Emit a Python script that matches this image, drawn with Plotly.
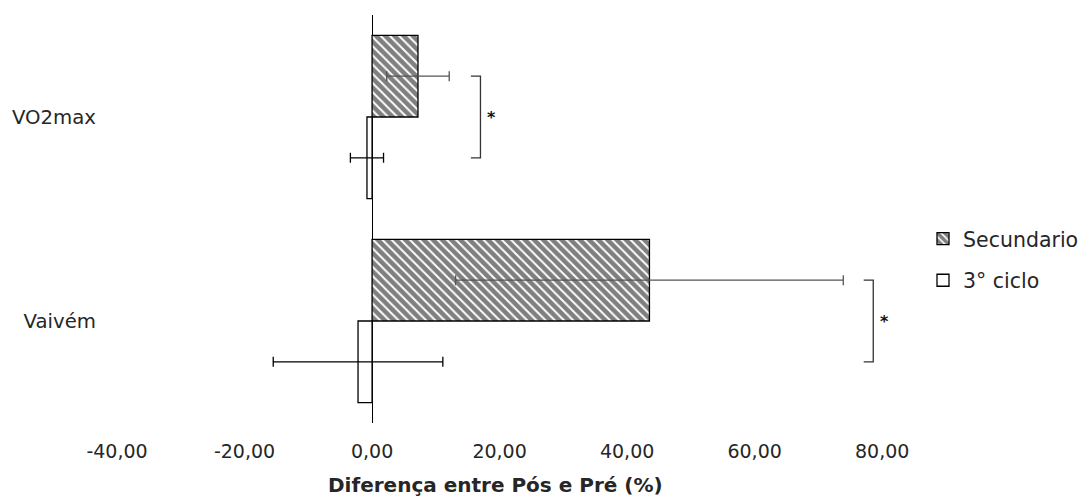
import plotly.graph_objects as go

categories = ["VO2max", "Vaivém"]
series_names = ["Secundario", "3° ciclo"]
secundario = [7.2, 43.5]
secundario_err = [4.9, 30.4]
ciclo3 = [-0.8, -2.2]
ciclo3_err = [2.6, 13.3]
x_ticks = [-40, -20, 0, 20, 40, 60, 80]
x_tick_labels = [f"{v:.2f}".replace(".", ",") for v in x_ticks]
# significance brackets: (category index, x position, label)
brackets = [(0, 17.0, "*"), (1, 78.6, "*")]

FONT = "DejaVu Sans"
TXT = "#262626"

fig = go.Figure()
fig.add_trace(go.Bar(
    name=series_names[0], y=categories, x=secundario, orientation="h",
    marker=dict(color="white", line=dict(color="black", width=1.3),
                pattern=dict(shape="\\", size=6.5, solidity=0.7, fgcolor="black", bgcolor="white")),
    error_x=dict(type="data", array=secundario_err, visible=True, color="#555555", thickness=1.3, width=5),
    legendgroup="a",
))
fig.add_trace(go.Bar(
    name=series_names[1], y=categories, x=ciclo3, orientation="h",
    marker=dict(color="white", line=dict(color="black", width=1.3)),
    error_x=dict(type="data", array=ciclo3_err, visible=True, color="black", thickness=1.3, width=5),
    legendgroup="b",
))

for ci, xb, lab in brackets:
    y0 = ci - 0.2
    y1 = ci + 0.2
    fig.add_shape(type="path", xref="x", yref="y",
                  path=f"M {xb-1.5} {y0} L {xb} {y0} L {xb} {y1} L {xb-1.5} {y1}",
                  line=dict(color="#333333", width=1.3))
    fig.add_annotation(x=xb + 1.8, y=ci, text=lab, showarrow=False, xanchor="center",
                       yanchor="middle",
                       font=dict(family=FONT, size=16, color="#111111", weight="bold"))

fig.add_annotation(text="Diferença entre Pós e Pré (%)", xref="paper", yref="paper",
                   x=(495 - 107) / 823, y=-(485 - 423) / 408, xanchor="center", yanchor="middle",
                   showarrow=False,
                   font=dict(family=FONT, size=20, color=TXT, weight="bold"))

fig.update_layout(
    width=1088, height=499,
    margin=dict(l=107, r=158, t=15, b=76, autoexpand=False),
    paper_bgcolor="white", plot_bgcolor="white",
    barmode="group", bargap=0.2, bargroupgap=0,
    font=dict(family=FONT, size=19, color=TXT),
    showlegend=True,
    legend=dict(x=(923 - 107) / 823, y=0.4, xanchor="left", yanchor="middle",
                traceorder="grouped", tracegroupgap=12,
                font=dict(family=FONT, size=20.5, color=TXT),
                itemwidth=30),
    xaxis=dict(range=[-41.57, 87.5], tickvals=x_ticks, ticktext=x_tick_labels,
               showgrid=False, showline=False, zeroline=True, zerolinecolor="black",
               zerolinewidth=1.3, ticks="", ticklabelstandoff=15, automargin=False),
    yaxis=dict(autorange="reversed", showgrid=False, showline=False, zeroline=False,
               ticks="", ticklabelstandoff=10, type="category", automargin=False,
               tickfont=dict(size=19.7)),
)

fig.write_html("out.html")
